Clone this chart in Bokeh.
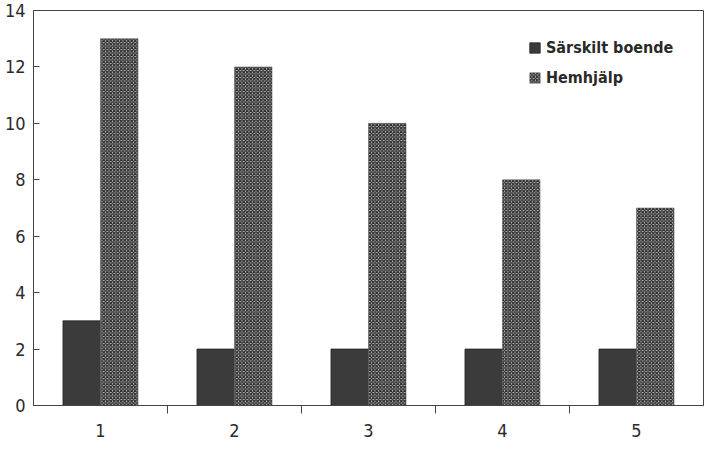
from bokeh.plotting import figure
from bokeh.models import ColumnDataSource, Range1d, FixedTicker, Legend, LegendItem
from bokeh.embed import file_html
from bokeh.resources import INLINE

categories = [1, 2, 3, 4, 5]
sarskilt_boende = [3, 2, 2, 2, 2]
hemhjalp = [13, 12, 10, 8, 7]
y_ticks = [0, 2, 4, 6, 8, 10, 12, 14]
series_names = ["Särskilt boende", "Hemhjälp"]

FONT = "'DejaVu Sans Condensed', 'Roboto Condensed', 'Liberation Sans Narrow', Roboto, sans-serif"
TXT = "#2a2a2a"

p = figure(width=705, height=439, output_backend="svg", toolbar_location=None,
           x_range=Range1d(0.5, 5.5), y_range=Range1d(0, 14),
           min_border_left=33, min_border_right=2, min_border_top=10, min_border_bottom=30)
p.background_fill_color = "white"
p.border_fill_color = "white"
p.outline_line_color = "#444444"
p.outline_line_width = 1
p.xgrid.visible = False
p.ygrid.visible = False

dodge = 0.14
bw = 0.28
src = ColumnDataSource(dict(
    x1=[c - dodge for c in categories],
    x2=[c + dodge for c in categories],
    a=sarskilt_boende, b=hemhjalp))

r1 = p.vbar(x="x1", top="a", width=bw, bottom=0, source=src,
            fill_color="#3b3b3b", line_color="#222222", line_width=0.8)
r2 = p.vbar(x="x2", top="b", width=bw, bottom=0, source=src,
            fill_color="#d0d0d0", line_color="#555555", line_width=0.5,
            hatch_pattern="diagonal_cross", hatch_color="#303030",
            hatch_scale=3.5, hatch_weight=1.4)

# x axis: labels at category centres, tick marks between categories
xa = p.xaxis[0]
xa.ticker = FixedTicker(ticks=categories, minor_ticks=[1.5, 2.5, 3.5, 4.5])
xa.major_tick_line_color = None
xa.minor_tick_line_color = "#444444"
xa.minor_tick_out = 8
xa.minor_tick_in = 0
xa.axis_line_color = "#444444"
xa.major_label_standoff = 10
xa.major_label_text_font = FONT
xa.major_label_text_font_size = "18px"
xa.major_label_text_color = TXT

ya = p.yaxis[0]
ya.ticker = FixedTicker(ticks=y_ticks)
ya.major_tick_in = 6
ya.major_tick_out = 0
ya.minor_tick_line_color = None
ya.axis_line_color = "#444444"
ya.major_tick_line_color = "#444444"
ya.major_label_standoff = 8
ya.major_label_text_font = FONT
ya.major_label_text_font_size = "18px"
ya.major_label_text_color = TXT

legend = Legend(items=[LegendItem(label=series_names[0], renderers=[r1]),
                       LegendItem(label=series_names[1], renderers=[r2])],
                location=(495, 318))
legend.border_line_color = None
legend.background_fill_alpha = 0
legend.padding = 0
legend.spacing = 11
legend.glyph_width = 13
legend.glyph_height = 13
legend.label_text_font = FONT
legend.label_text_font_style = "bold"
legend.label_text_font_size = "16px"
legend.label_text_color = TXT
legend.label_standoff = 5
p.add_layout(legend)

open("out.html", "w").write(file_html(p, INLINE))
